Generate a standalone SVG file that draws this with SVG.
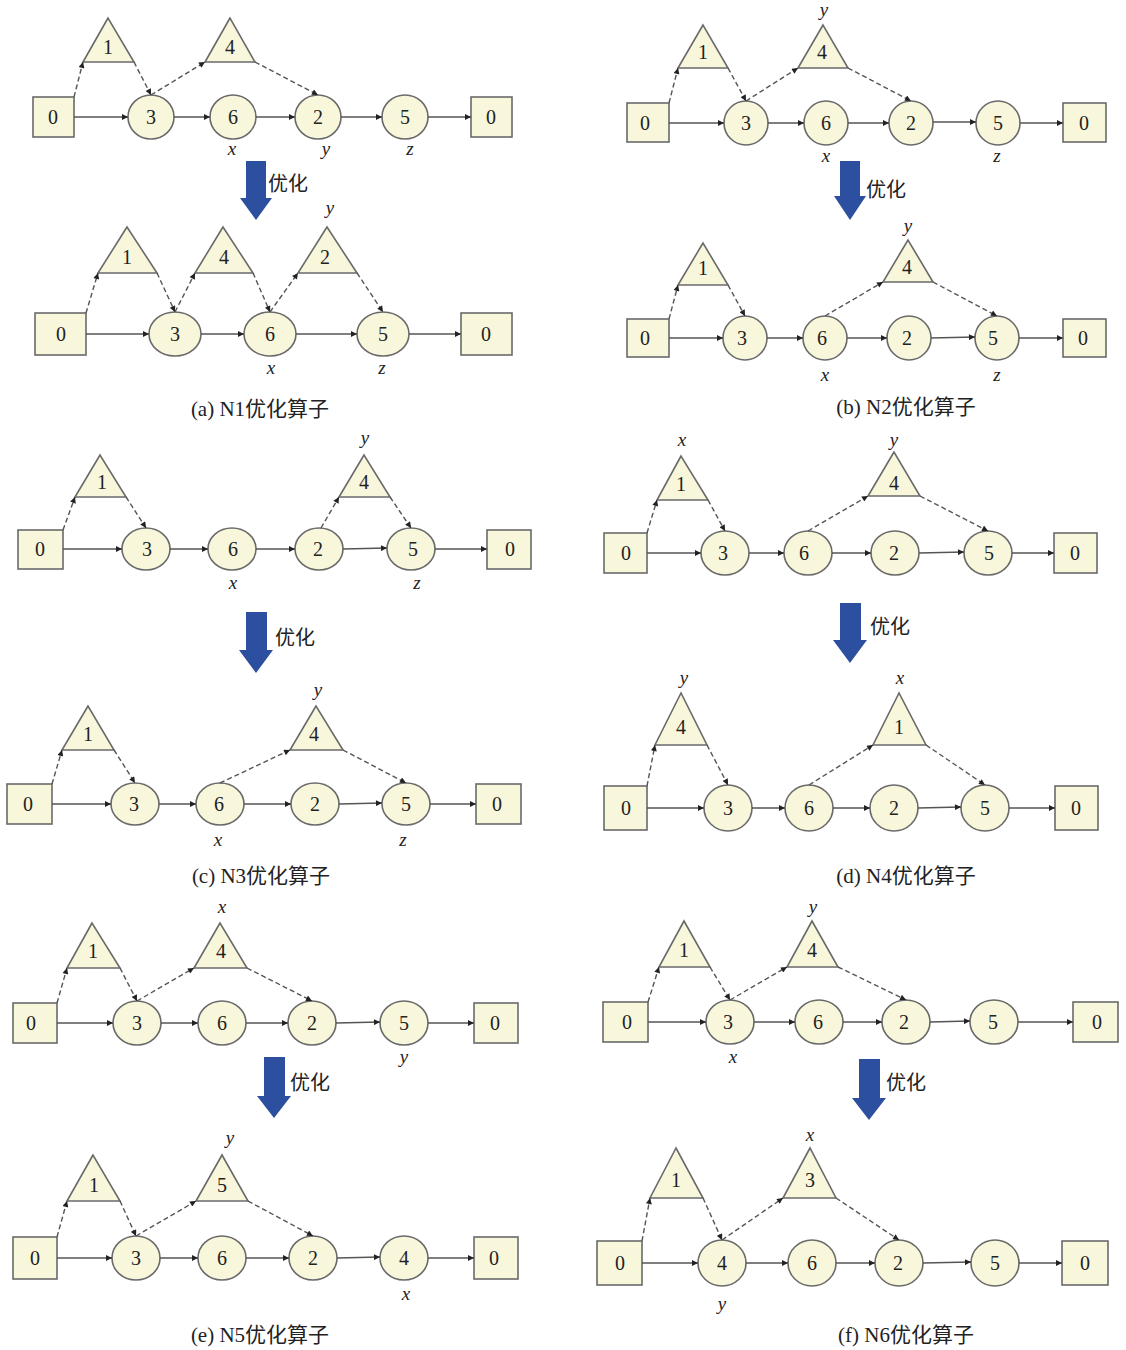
<svg xmlns="http://www.w3.org/2000/svg" width="1126" height="1350" viewBox="0 0 1126 1350">
<style>
.s{fill:#f8f7dc;stroke:#6a6a6a;stroke-width:1.6}
.t{font-family:"Liberation Serif",serif;font-size:20px;text-anchor:middle;fill:#222}
.v{font-family:"Liberation Serif",serif;font-size:19px;font-style:italic;text-anchor:middle;fill:#222}
.cap{font-family:"Liberation Serif","Noto Sans CJK SC",serif;font-size:21px;text-anchor:middle;fill:#222}
.opt{font-family:"Noto Sans CJK SC",sans-serif;font-size:20px;fill:#222}
.ba{fill:#2d4f9f}
.e{stroke:#555;stroke-width:1.4;fill:none;marker-end:url(#ah)}
.d{stroke:#555;stroke-width:1.4;fill:none;stroke-dasharray:5,3;marker-end:url(#ah)}
</style>
<defs>
<marker id="ah" viewBox="0 0 10 10" refX="10" refY="5" markerWidth="8" markerHeight="6" markerUnits="userSpaceOnUse" orient="auto"><path d="M0,0 L10,5 L0,10 z" fill="#222"/></marker>
</defs>

<!-- ===== Panel (a) top ===== -->
<g id="a1-s0"><rect class="s" x="33" y="97" width="41" height="40"/><text class="t" x="53" y="124">0</text></g>
<g id="a1-c3"><ellipse class="s" cx="151" cy="117" rx="23" ry="22"/><text class="t" x="151" y="124">3</text></g>
<g id="a1-c6"><ellipse class="s" cx="233" cy="117" rx="23" ry="22"/><text class="t" x="233" y="124">6</text></g>
<g id="a1-c2"><ellipse class="s" cx="318" cy="117" rx="23" ry="22"/><text class="t" x="318" y="124">2</text></g>
<g id="a1-c5"><ellipse class="s" cx="405" cy="117" rx="23" ry="22"/><text class="t" x="405" y="124">5</text></g>
<g id="a1-e0"><rect class="s" x="471" y="97" width="41" height="40"/><text class="t" x="491" y="124">0</text></g>
<g id="a1-t1"><polygon class="s" points="108,18 83,62 134,62"/><text class="t" x="108" y="54">1</text></g>
<g id="a1-t4"><polygon class="s" points="230,18 205,62 255,62"/><text class="t" x="230" y="54">4</text></g>
<text class="v" x="232" y="155">x</text><text class="v" x="326" y="155">y</text><text class="v" x="410" y="155">z</text>

<!-- ===== Panel (a) bottom ===== -->
<g id="a2-s0"><rect class="s" x="35" y="313" width="51" height="42"/><text class="t" x="61" y="341">0</text></g>
<g id="a2-c3"><ellipse class="s" cx="175" cy="334" rx="26" ry="22"/><text class="t" x="175" y="341">3</text></g>
<g id="a2-c6"><ellipse class="s" cx="270" cy="334" rx="26" ry="22"/><text class="t" x="270" y="341">6</text></g>
<g id="a2-c5"><ellipse class="s" cx="383" cy="334" rx="26" ry="22"/><text class="t" x="383" y="341">5</text></g>
<g id="a2-e0"><rect class="s" x="461" y="313" width="51" height="42"/><text class="t" x="486" y="341">0</text></g>
<g id="a2-t1"><polygon class="s" points="127,227 98,273 157,273"/><text class="t" x="127" y="264">1</text></g>
<g id="a2-t4"><polygon class="s" points="223,227 195,273 253,273"/><text class="t" x="224" y="264">4</text></g>
<g id="a2-t2"><polygon class="s" points="327,227 298,273 357,273"/><text class="t" x="325" y="264">2</text></g>
<text class="v" x="330" y="214">y</text><text class="v" x="271" y="374">x</text><text class="v" x="382" y="374">z</text>
<text class="cap" x="260" y="416">(a) N1优化算子</text>

<!-- ===== Panel (b) top ===== -->
<g id="b1-s0"><rect class="s" x="627" y="103" width="42" height="39"/><text class="t" x="645" y="130">0</text></g>
<g id="b1-c3"><ellipse class="s" cx="746" cy="123" rx="22" ry="22"/><text class="t" x="746" y="130">3</text></g>
<g id="b1-c6"><ellipse class="s" cx="826" cy="123" rx="22" ry="22"/><text class="t" x="826" y="130">6</text></g>
<g id="b1-c2"><ellipse class="s" cx="911" cy="123" rx="22" ry="22"/><text class="t" x="911" y="130">2</text></g>
<g id="b1-c5"><ellipse class="s" cx="998" cy="123" rx="22" ry="22"/><text class="t" x="998" y="130">5</text></g>
<g id="b1-e0"><rect class="s" x="1063" y="103" width="43" height="39"/><text class="t" x="1084" y="130">0</text></g>
<g id="b1-t1"><polygon class="s" points="703,25 678,68 728,68"/><text class="t" x="703" y="59">1</text></g>
<g id="b1-t4"><polygon class="s" points="823,25 798,68 848,68"/><text class="t" x="822" y="59">4</text></g>
<text class="v" x="824" y="16">y</text><text class="v" x="826" y="162">x</text><text class="v" x="997" y="162">z</text>

<!-- ===== Panel (b) bottom ===== -->
<g id="b2-s0"><rect class="s" x="627" y="319" width="42" height="38"/><text class="t" x="645" y="345">0</text></g>
<g id="b2-c3"><ellipse class="s" cx="745" cy="338" rx="22" ry="22"/><text class="t" x="742" y="345">3</text></g>
<g id="b2-c6"><ellipse class="s" cx="825" cy="338" rx="22" ry="22"/><text class="t" x="822" y="345">6</text></g>
<g id="b2-c2"><ellipse class="s" cx="909" cy="338" rx="22" ry="22"/><text class="t" x="907" y="345">2</text></g>
<g id="b2-c5"><ellipse class="s" cx="997" cy="338" rx="22" ry="22"/><text class="t" x="993" y="345">5</text></g>
<g id="b2-e0"><rect class="s" x="1063" y="319" width="43" height="38"/><text class="t" x="1083" y="345">0</text></g>
<g id="b2-t1"><polygon class="s" points="703,243 678,285 728,285"/><text class="t" x="703" y="275">1</text></g>
<g id="b2-t4"><polygon class="s" points="908,240 883,282 933,282"/><text class="t" x="907" y="274">4</text></g>
<text class="v" x="908" y="232">y</text><text class="v" x="825" y="381">x</text><text class="v" x="997" y="381">z</text>
<text class="cap" x="906" y="414">(b) N2优化算子</text>

<!-- ===== Panel (c) top ===== -->
<g id="c1-s0"><rect class="s" x="18" y="530" width="45" height="39"/><text class="t" x="40" y="556">0</text></g>
<g id="c1-c3"><ellipse class="s" cx="146" cy="549" rx="24" ry="21"/><text class="t" x="147" y="556">3</text></g>
<g id="c1-c6"><ellipse class="s" cx="232" cy="549" rx="24" ry="21"/><text class="t" x="233" y="556">6</text></g>
<g id="c1-c2"><ellipse class="s" cx="319" cy="549" rx="24" ry="21"/><text class="t" x="318" y="556">2</text></g>
<g id="c1-c5"><ellipse class="s" cx="411" cy="549" rx="24" ry="21"/><text class="t" x="413" y="556">5</text></g>
<g id="c1-e0"><rect class="s" x="487" y="530" width="44" height="39"/><text class="t" x="510" y="556">0</text></g>
<g id="c1-t1"><polygon class="s" points="100,455 75,497 126,497"/><text class="t" x="102" y="489">1</text></g>
<g id="c1-t4"><polygon class="s" points="364,455 339,497 390,497"/><text class="t" x="364" y="489">4</text></g>
<text class="v" x="365" y="444">y</text><text class="v" x="233" y="589">x</text><text class="v" x="417" y="589">z</text>

<!-- ===== Panel (c) bottom ===== -->
<g id="c2-s0"><rect class="s" x="7" y="784" width="45" height="40"/><text class="t" x="28" y="811">0</text></g>
<g id="c2-c3"><ellipse class="s" cx="135" cy="804" rx="24" ry="21"/><text class="t" x="134" y="811">3</text></g>
<g id="c2-c6"><ellipse class="s" cx="220" cy="804" rx="24" ry="21"/><text class="t" x="219" y="811">6</text></g>
<g id="c2-c2"><ellipse class="s" cx="315" cy="804" rx="24" ry="21"/><text class="t" x="315" y="811">2</text></g>
<g id="c2-c5"><ellipse class="s" cx="406" cy="804" rx="24" ry="21"/><text class="t" x="406" y="811">5</text></g>
<g id="c2-e0"><rect class="s" x="476" y="784" width="45" height="40"/><text class="t" x="497" y="811">0</text></g>
<g id="c2-t1"><polygon class="s" points="88,706 62,750 114,750"/><text class="t" x="88" y="741">1</text></g>
<g id="c2-t4"><polygon class="s" points="316,706 290,750 343,750"/><text class="t" x="314" y="741">4</text></g>
<text class="v" x="318" y="696">y</text><text class="v" x="218" y="846">x</text><text class="v" x="403" y="846">z</text>
<text class="cap" x="261" y="883">(c) N3优化算子</text>

<!-- ===== Panel (d) top ===== -->
<g id="d1-s0"><rect class="s" x="604" y="533" width="43" height="40"/><text class="t" x="626" y="560">0</text></g>
<g id="d1-c3"><ellipse class="s" cx="725" cy="553" rx="24" ry="22"/><text class="t" x="723" y="560">3</text></g>
<g id="d1-c6"><ellipse class="s" cx="808" cy="553" rx="24" ry="22"/><text class="t" x="804" y="560">6</text></g>
<g id="d1-c2"><ellipse class="s" cx="895" cy="553" rx="24" ry="22"/><text class="t" x="894" y="560">2</text></g>
<g id="d1-c5"><ellipse class="s" cx="988" cy="553" rx="24" ry="22"/><text class="t" x="989" y="560">5</text></g>
<g id="d1-e0"><rect class="s" x="1054" y="533" width="43" height="40"/><text class="t" x="1075" y="560">0</text></g>
<g id="d1-t1"><polygon class="s" points="681,456 657,500 708,500"/><text class="t" x="681" y="491">1</text></g>
<g id="d1-t4"><polygon class="s" points="894,452 868,496 920,496"/><text class="t" x="894" y="490">4</text></g>
<text class="v" x="682" y="446">x</text><text class="v" x="894" y="446">y</text>

<!-- ===== Panel (d) bottom ===== -->
<g id="d2-s0"><rect class="s" x="604" y="786" width="43" height="44"/><text class="t" x="626" y="815">0</text></g>
<g id="d2-c3"><ellipse class="s" cx="728" cy="808" rx="24" ry="23"/><text class="t" x="728" y="815">3</text></g>
<g id="d2-c6"><ellipse class="s" cx="809" cy="808" rx="24" ry="23"/><text class="t" x="809" y="815">6</text></g>
<g id="d2-c2"><ellipse class="s" cx="894" cy="808" rx="24" ry="23"/><text class="t" x="894" y="815">2</text></g>
<g id="d2-c5"><ellipse class="s" cx="985" cy="808" rx="24" ry="23"/><text class="t" x="985" y="815">5</text></g>
<g id="d2-e0"><rect class="s" x="1055" y="786" width="43" height="44"/><text class="t" x="1076" y="815">0</text></g>
<g id="d2-t4"><polygon class="s" points="681,693 655,745 707,745"/><text class="t" x="681" y="734">4</text></g>
<g id="d2-t1"><polygon class="s" points="899,693 873,745 926,745"/><text class="t" x="899" y="734">1</text></g>
<text class="v" x="684" y="684">y</text><text class="v" x="900" y="684">x</text>
<text class="cap" x="906" y="883">(d) N4优化算子</text>

<!-- ===== Panel (e) top ===== -->
<g id="e1-s0"><rect class="s" x="13" y="1003" width="44" height="40"/><text class="t" x="31" y="1030">0</text></g>
<g id="e1-c3"><ellipse class="s" cx="137" cy="1023" rx="24" ry="22"/><text class="t" x="137" y="1030">3</text></g>
<g id="e1-c6"><ellipse class="s" cx="222" cy="1023" rx="24" ry="22"/><text class="t" x="222" y="1030">6</text></g>
<g id="e1-c2"><ellipse class="s" cx="312" cy="1023" rx="24" ry="22"/><text class="t" x="312" y="1030">2</text></g>
<g id="e1-c5"><ellipse class="s" cx="404" cy="1023" rx="24" ry="22"/><text class="t" x="404" y="1030">5</text></g>
<g id="e1-e0"><rect class="s" x="474" y="1003" width="44" height="40"/><text class="t" x="495" y="1030">0</text></g>
<g id="e1-t1"><polygon class="s" points="92,923 67,968 120,968"/><text class="t" x="93" y="958">1</text></g>
<g id="e1-t4"><polygon class="s" points="220,923 194,968 247,968"/><text class="t" x="221" y="958">4</text></g>
<text class="v" x="222" y="913">x</text><text class="v" x="404" y="1063">y</text>

<!-- ===== Panel (e) bottom ===== -->
<g id="e2-s0"><rect class="s" x="13" y="1237" width="44" height="42"/><text class="t" x="35" y="1265">0</text></g>
<g id="e2-c3"><ellipse class="s" cx="136" cy="1258" rx="24" ry="22"/><text class="t" x="136" y="1265">3</text></g>
<g id="e2-c6"><ellipse class="s" cx="222" cy="1258" rx="24" ry="22"/><text class="t" x="222" y="1265">6</text></g>
<g id="e2-c2"><ellipse class="s" cx="313" cy="1258" rx="24" ry="22"/><text class="t" x="313" y="1265">2</text></g>
<g id="e2-c4"><ellipse class="s" cx="404" cy="1258" rx="24" ry="22"/><text class="t" x="404" y="1265">4</text></g>
<g id="e2-e0"><rect class="s" x="474" y="1237" width="44" height="42"/><text class="t" x="494" y="1265">0</text></g>
<g id="e2-t1"><polygon class="s" points="93,1155 67,1201 120,1201"/><text class="t" x="94" y="1192">1</text></g>
<g id="e2-t5"><polygon class="s" points="222,1155 196,1201 248,1201"/><text class="t" x="222" y="1192">5</text></g>
<text class="v" x="230" y="1144">y</text><text class="v" x="406" y="1300">x</text>
<text class="cap" x="260" y="1342">(e) N5优化算子</text>

<!-- ===== Panel (f) top ===== -->
<g id="f1-s0"><rect class="s" x="603" y="1002" width="45" height="40"/><text class="t" x="627" y="1029">0</text></g>
<g id="f1-c3"><ellipse class="s" cx="730" cy="1022" rx="24" ry="22"/><text class="t" x="728" y="1029">3</text></g>
<g id="f1-c6"><ellipse class="s" cx="819" cy="1022" rx="24" ry="22"/><text class="t" x="818" y="1029">6</text></g>
<g id="f1-c2"><ellipse class="s" cx="906" cy="1022" rx="24" ry="22"/><text class="t" x="904" y="1029">2</text></g>
<g id="f1-c5"><ellipse class="s" cx="994" cy="1022" rx="24" ry="22"/><text class="t" x="993" y="1029">5</text></g>
<g id="f1-e0"><rect class="s" x="1073" y="1002" width="45" height="40"/><text class="t" x="1097" y="1029">0</text></g>
<g id="f1-t1"><polygon class="s" points="684,921 659,967 710,967"/><text class="t" x="684" y="957">1</text></g>
<g id="f1-t4"><polygon class="s" points="812,921 787,967 838,967"/><text class="t" x="812" y="957">4</text></g>
<text class="v" x="813" y="913">y</text><text class="v" x="733" y="1063">x</text>

<!-- ===== Panel (f) bottom ===== -->
<g id="f2-s0"><rect class="s" x="597" y="1241" width="45" height="44"/><text class="t" x="620" y="1270">0</text></g>
<g id="f2-c4"><ellipse class="s" cx="722" cy="1263" rx="24" ry="23"/><text class="t" x="722" y="1270">4</text></g>
<g id="f2-c6"><ellipse class="s" cx="812" cy="1263" rx="24" ry="23"/><text class="t" x="812" y="1270">6</text></g>
<g id="f2-c2"><ellipse class="s" cx="899" cy="1263" rx="24" ry="23"/><text class="t" x="898" y="1270">2</text></g>
<g id="f2-c5"><ellipse class="s" cx="995" cy="1263" rx="24" ry="23"/><text class="t" x="995" y="1270">5</text></g>
<g id="f2-e0"><rect class="s" x="1062" y="1241" width="46" height="44"/><text class="t" x="1085" y="1270">0</text></g>
<g id="f2-t1"><polygon class="s" points="676,1148 650,1198 703,1198"/><text class="t" x="676" y="1187">1</text></g>
<g id="f2-t3"><polygon class="s" points="810,1148 783,1198 836,1198"/><text class="t" x="810" y="1187">3</text></g>
<text class="v" x="810" y="1141">x</text><text class="v" x="722" y="1310">y</text>
<text class="cap" x="906" y="1342">(f) N6优化算子</text>

<!-- ===== Optimisation arrows ===== -->
<g id="opt-arrows">
<path class="ba" d="M246,161 H266 V198 H272 L256,220 L240,198 H246 Z"/><text class="opt" x="268" y="191">优化</text>
<path class="ba" d="M840,161 H860 V196 H866 L850,220 L834,196 H840 Z"/><text class="opt" x="866" y="197">优化</text>
<path class="ba" d="M246,612 H267 V650 H273 L256,673 L239,650 H246 Z"/><text class="opt" x="275" y="645">优化</text>
<path class="ba" d="M840,603 H861 V640 H867 L850,663 L833,640 H840 Z"/><text class="opt" x="870" y="634">优化</text>
<path class="ba" d="M264,1057 H285 V1096 H291 L274,1118 L257,1096 H264 Z"/><text class="opt" x="290" y="1090">优化</text>
<path class="ba" d="M859,1059 H880 V1098 H886 L869,1120 L852,1098 H859 Z"/><text class="opt" x="886" y="1090">优化</text>
</g>

<!-- ===== Connectors ===== -->
<g id="connectors">
<!-- a top -->
<line class="e" x1="74" y1="117" x2="128" y2="117"/><line class="e" x1="174" y1="117" x2="210" y2="117"/><line class="e" x1="256" y1="117" x2="295" y2="117"/><line class="e" x1="341" y1="117" x2="382" y2="117"/><line class="e" x1="428" y1="117" x2="471" y2="117"/>
<line class="d" x1="74" y1="97" x2="83" y2="62"/><line class="d" x1="134" y1="62" x2="151" y2="95"/><line class="d" x1="151" y1="95" x2="205" y2="62"/><line class="d" x1="255" y1="62" x2="318" y2="95"/>
<!-- a bottom -->
<line class="e" x1="86" y1="334" x2="149" y2="334"/><line class="e" x1="201" y1="334" x2="244" y2="334"/><line class="e" x1="296" y1="334" x2="357" y2="334"/><line class="e" x1="409" y1="334" x2="461" y2="334"/>
<line class="d" x1="86" y1="313" x2="98" y2="273"/><line class="d" x1="157" y1="273" x2="175" y2="312"/><line class="d" x1="175" y1="312" x2="195" y2="273"/><line class="d" x1="253" y1="273" x2="270" y2="312"/><line class="d" x1="270" y1="312" x2="298" y2="273"/><line class="d" x1="357" y1="273" x2="383" y2="312"/>
<!-- b top -->
<line class="e" x1="669" y1="123" x2="724" y2="123"/><line class="e" x1="768" y1="123" x2="804" y2="123"/><line class="e" x1="848" y1="123" x2="889" y2="123"/><line class="e" x1="933" y1="122" x2="976" y2="122"/><line class="e" x1="1020" y1="123" x2="1063" y2="123"/>
<line class="d" x1="669" y1="103" x2="678" y2="68"/><line class="d" x1="728" y1="68" x2="746" y2="101"/><line class="d" x1="746" y1="101" x2="798" y2="68"/><line class="d" x1="848" y1="68" x2="911" y2="101"/>
<!-- b bottom -->
<line class="e" x1="669" y1="338" x2="723" y2="338"/><line class="e" x1="767" y1="338" x2="803" y2="338"/><line class="e" x1="847" y1="338" x2="887" y2="338"/><line class="e" x1="931" y1="338" x2="975" y2="337"/><line class="e" x1="1019" y1="338" x2="1063" y2="338"/>
<line class="d" x1="669" y1="319" x2="678" y2="285"/><line class="d" x1="728" y1="285" x2="745" y2="316"/><line class="d" x1="825" y1="316" x2="883" y2="282"/><line class="d" x1="933" y1="282" x2="997" y2="316"/>
<!-- c top -->
<line class="e" x1="63" y1="549" x2="122" y2="549"/><line class="e" x1="170" y1="549" x2="208" y2="549"/><line class="e" x1="256" y1="549" x2="295" y2="549"/><line class="e" x1="343" y1="549" x2="387" y2="548"/><line class="e" x1="435" y1="549" x2="487" y2="549"/>
<line class="d" x1="63" y1="530" x2="75" y2="497"/><line class="d" x1="126" y1="497" x2="146" y2="528"/><line class="d" x1="321" y1="528" x2="339" y2="497"/><line class="d" x1="390" y1="497" x2="411" y2="528"/>
<!-- c bottom -->
<line class="e" x1="52" y1="804" x2="111" y2="804"/><line class="e" x1="159" y1="804" x2="196" y2="804"/><line class="e" x1="244" y1="804" x2="291" y2="804"/><line class="e" x1="339" y1="804" x2="382" y2="803"/><line class="e" x1="430" y1="804" x2="476" y2="804"/>
<line class="d" x1="52" y1="784" x2="62" y2="750"/><line class="d" x1="114" y1="750" x2="135" y2="783"/><line class="d" x1="220" y1="783" x2="290" y2="750"/><line class="d" x1="343" y1="750" x2="406" y2="783"/>
<!-- d top -->
<line class="e" x1="647" y1="553" x2="701" y2="553"/><line class="e" x1="749" y1="553" x2="784" y2="553"/><line class="e" x1="832" y1="553" x2="871" y2="553"/><line class="e" x1="919" y1="553" x2="964" y2="552"/><line class="e" x1="1012" y1="553" x2="1054" y2="553"/>
<line class="d" x1="647" y1="533" x2="657" y2="500"/><line class="d" x1="708" y1="500" x2="725" y2="531"/><line class="d" x1="808" y1="531" x2="868" y2="496"/><line class="d" x1="920" y1="496" x2="988" y2="531"/>
<!-- d bottom -->
<line class="e" x1="647" y1="808" x2="704" y2="808"/><line class="e" x1="752" y1="808" x2="785" y2="808"/><line class="e" x1="833" y1="808" x2="870" y2="808"/><line class="e" x1="918" y1="808" x2="961" y2="807"/><line class="e" x1="1009" y1="808" x2="1055" y2="808"/>
<line class="d" x1="647" y1="786" x2="655" y2="745"/><line class="d" x1="707" y1="745" x2="728" y2="785"/><line class="d" x1="809" y1="785" x2="873" y2="745"/><line class="d" x1="926" y1="745" x2="985" y2="785"/>
<!-- e top -->
<line class="e" x1="57" y1="1023" x2="113" y2="1023"/><line class="e" x1="161" y1="1023" x2="198" y2="1023"/><line class="e" x1="246" y1="1023" x2="288" y2="1023"/><line class="e" x1="336" y1="1023" x2="380" y2="1022"/><line class="e" x1="428" y1="1023" x2="474" y2="1023"/>
<line class="d" x1="57" y1="1003" x2="67" y2="968"/><line class="d" x1="120" y1="968" x2="137" y2="1001"/><line class="d" x1="137" y1="1001" x2="194" y2="968"/><line class="d" x1="247" y1="968" x2="312" y2="1001"/>
<!-- e bottom -->
<line class="e" x1="57" y1="1258" x2="112" y2="1258"/><line class="e" x1="160" y1="1258" x2="198" y2="1258"/><line class="e" x1="246" y1="1258" x2="289" y2="1258"/><line class="e" x1="337" y1="1258" x2="380" y2="1257"/><line class="e" x1="428" y1="1258" x2="474" y2="1258"/>
<line class="d" x1="57" y1="1237" x2="67" y2="1201"/><line class="d" x1="120" y1="1201" x2="136" y2="1236"/><line class="d" x1="136" y1="1236" x2="196" y2="1201"/><line class="d" x1="248" y1="1201" x2="313" y2="1236"/>
<!-- f top -->
<line class="e" x1="648" y1="1022" x2="706" y2="1022"/><line class="e" x1="754" y1="1022" x2="795" y2="1022"/><line class="e" x1="843" y1="1022" x2="882" y2="1022"/><line class="e" x1="930" y1="1022" x2="970" y2="1021"/><line class="e" x1="1018" y1="1022" x2="1073" y2="1022"/>
<line class="d" x1="648" y1="1002" x2="659" y2="967"/><line class="d" x1="710" y1="967" x2="730" y2="1000"/><line class="d" x1="730" y1="1000" x2="787" y2="967"/><line class="d" x1="838" y1="967" x2="906" y2="1000"/>
<!-- f bottom -->
<line class="e" x1="642" y1="1263" x2="698" y2="1263"/><line class="e" x1="746" y1="1263" x2="788" y2="1263"/><line class="e" x1="836" y1="1263" x2="875" y2="1263"/><line class="e" x1="923" y1="1263" x2="971" y2="1262"/><line class="e" x1="1019" y1="1263" x2="1062" y2="1263"/>
<line class="d" x1="642" y1="1241" x2="650" y2="1198"/><line class="d" x1="703" y1="1198" x2="722" y2="1240"/><line class="d" x1="722" y1="1240" x2="783" y2="1198"/><line class="d" x1="836" y1="1198" x2="899" y2="1240"/>
</g>
</svg>
